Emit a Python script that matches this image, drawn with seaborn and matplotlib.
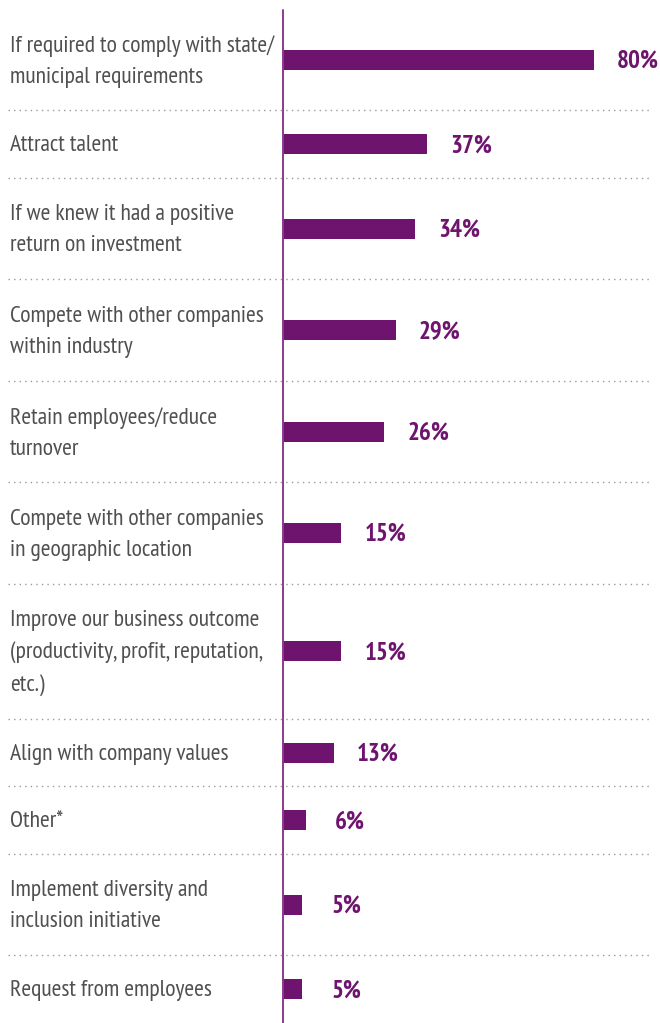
import matplotlib
matplotlib.use("Agg")
import matplotlib.pyplot as plt
import numpy as np
import pandas as pd
import seaborn as sns

reasons = [
    "If required to comply with state/\nmunicipal requirements",
    "Attract talent",
    "If we knew it had a positive\nreturn on investment",
    "Compete with other companies\nwithin industry",
    "Retain employees/reduce\nturnover",
    "Compete with other companies\nin geographic location",
    "Improve our business outcome\n(productivity, profit, reputation,\netc.)",
    "Align with company values",
    "Other*",
    "Implement diversity and\ninclusion initiative",
    "Request from employees",
]
shares = [80, 37, 34, 29, 26, 15, 15, 13, 6, 5, 5]
value_labels = ["80%", "37%", "34%", "29%", "26%", "15%", "15%", "13%", "6%", "5%", "5%"]

PURPLE = "#6f146e"
TEXT_GRAY = "#505050"

sns.set_style("white")
plt.rcParams["font.family"] = ["PT Sans Narrow", "DejaVu Sans"]

# each row is as tall as its label's line count plus one spacer unit
n_lines = np.array([r.count("\n") + 1 for r in reasons])
heights = n_lines + 1
edges = np.concatenate([[0], np.cumsum(heights)])
centers = (edges[:-1] + edges[1:]) / 2
total = edges[-1]

df = pd.DataFrame({"reason": reasons, "share": shares, "pos": centers})

W, H = 660, 1023
fig = plt.figure(figsize=(W / 100, H / 100), dpi=100)
top_px, bot_px = 9, 1023
ax = fig.add_axes([0, 1 - bot_px / H, 1, (bot_px - top_px) / H])

px_per_pct = 3.89
x0_px = 283
xmin = -x0_px / px_per_pct
xmax = (W - x0_px) / px_per_pct

unit_px = (bot_px - top_px) / total
bar_h = 20 / unit_px  # bar thickness in row units

sns.barplot(data=df, x="share", y="pos", orient="h", native_scale=True,
            color=PURPLE, saturation=1, ax=ax, linewidth=0, errorbar=None)
for patch, c in zip(ax.patches, centers):
    patch.set_y(c - bar_h / 2)
    patch.set_height(bar_h)

ax.set_xlim(xmin, xmax)
ax.set_ylim(total, 0)
ax.set_axis_off()

# vertical baseline
ax.plot([0, 0], [0.03, total], color="#8a3b8a", lw=1.4, clip_on=False)

# dotted separators between rows
sep_x0 = xmin + 8 / px_per_pct
sep_x1 = xmin + 652 / px_per_pct
for e in edges[1:-1]:
    ax.plot([sep_x0, sep_x1], [e, e], color="#9a9a9a", lw=1.0,
            linestyle=(0, (1, 3)))

label_x = xmin + 10 / px_per_pct
for r, c, v, lab in zip(reasons, centers, shares, value_labels):
    ax.text(label_x, c + 0.05, r, ha="left", va="center", fontsize=17,
            color=TEXT_GRAY, linespacing=1.62)
    ax.text(v + 44 / px_per_pct, c + 0.05, lab, ha="center", va="center",
            fontsize=18, fontweight="bold", color=PURPLE)

fig.savefig("out.png", dpi=100)
